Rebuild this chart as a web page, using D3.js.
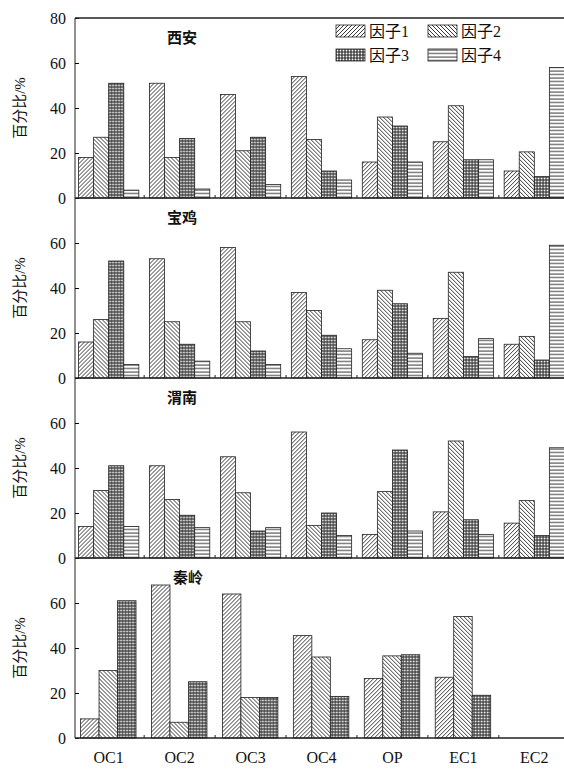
<!DOCTYPE html>
<html><head><meta charset="utf-8">
<script src="https://cdn.jsdelivr.net/npm/d3@7"></script>
<style>body{margin:0;background:#fff}svg{display:block}text{font-family:"Liberation Serif","Noto Sans CJK SC",serif;fill:#111}</style>
</head><body><svg id="c" width="564" height="769"></svg>
<script>
const groups = ['OC1', 'OC2', 'OC3', 'OC4', 'OP', 'EC1', 'EC2'];
const factors = ['因子1', '因子2', '因子3', '因子4'];
const sites = ['西安', '宝鸡', '渭南', '秦岭'];
const xian = [[18, 27, 51, 3.5], [51, 18, 26.5, 4], [46, 21, 27, 6], [54, 26, 12, 8], [16, 36, 32, 16], [25, 41, 17, 17], [12, 20.5, 9.5, 58]];
const baoji = [[16, 26, 52, 6], [53, 25, 15, 7.5], [58, 25, 12, 6], [38, 30, 19, 13], [17, 39, 33, 11], [26.5, 47, 9.5, 17.5], [15, 18.5, 8, 59]];
const weinan = [[14, 30, 41, 14], [41, 26, 19, 13.5], [45, 29, 12, 13.5], [56, 14.5, 20, 10], [10.5, 29.5, 48, 12], [20.5, 52, 17, 10.5], [15.5, 25.5, 10, 49]];
const qinling = [[8.5, 30, 61], [68, 7, 25], [64, 18, 18], [45.5, 36, 18.5], [26.5, 36.5, 37], [27, 54, 19], []];
const panels = [xian, baoji, weinan, qinling];

const svg = d3.select('#c');
const defs = svg.append('defs');
function pat(id, w, h, draw) {
  const p = defs.append('pattern').attr('id', id).attr('patternUnits', 'userSpaceOnUse').attr('width', w).attr('height', h);
  p.append('rect').attr('width', w).attr('height', h).attr('fill', '#fff');
  draw(p);
}
pat('f0', 4, 4, p => p.append('path').attr('d', 'M-1,1 l2,-2 M0,4 l4,-4 M3,5 l2,-2').attr('stroke', '#222').attr('stroke-width', 0.9));
pat('f1', 4, 4, p => p.append('path').attr('d', 'M-1,3 l2,2 M0,0 l4,4 M3,-1 l2,2').attr('stroke', '#222').attr('stroke-width', 0.9));
pat('f2', 3, 3, p => { p.append('rect').attr('width', 3).attr('height', 3).attr('fill', '#444');
  p.append('circle').attr('cx', 1.5).attr('cy', 1.5).attr('r', 0.9).attr('fill', '#fff'); });
pat('f3', 4, 3.5, p => p.append('path').attr('d', 'M0,1 h4').attr('stroke', '#222').attr('stroke-width', 0.9));

const left = 75, right = 568, top0 = 18, ph = 180;
const x = d3.scaleBand().domain(groups).range([left, right]).paddingInner(0.15).paddingOuter(0.05);

panels.forEach((data, i) => {
  const y = d3.scaleLinear().domain([0, 80]).range([top0 + (i + 1) * ph, top0 + i * ph]);
  const nf = i === 3 ? 3 : 4;
  const xs = d3.scaleBand().domain(d3.range(nf)).range([0, i === 3 ? x.bandwidth() * 0.92 : x.bandwidth()]);
  const g = svg.append('g');
  g.selectAll('g').data(data).join('g')
    .attr('transform', (d, j) => `translate(${x(groups[j]) + (i === 3 ? 2 : 0)},0)`)
    .selectAll('rect').data(d => d).join('rect')
    .attr('x', (d, k) => xs(k)).attr('width', xs.bandwidth())
    .attr('y', d => y(d)).attr('height', d => y(0) - y(d))
    .attr('fill', (d, k) => `url(#f${k})`).attr('stroke', '#222').attr('stroke-width', 0.8);
  const ax = d3.axisLeft(y).tickValues(i === 0 ? [0, 20, 40, 60, 80] : [0, 20, 40, 60]).tickSize(-4).tickPadding(9).tickSizeOuter(0);
  const ag = svg.append('g').attr('transform', `translate(${left},0)`).call(ax);
  ag.select('.domain').attr('stroke', '#222').attr('d', `M0,${y(80)}V${y(0)}`);
  ag.selectAll('text').attr('font-size', 16);
  svg.append('line').attr('x1', left).attr('x2', 564).attr('y1', y(0)).attr('y2', y(0)).attr('stroke', '#222').attr('stroke-width', 1.3);
  svg.append('text').attr('transform', `translate(25,${y(40)}) rotate(-90)`).attr('text-anchor', 'middle')
    .attr('font-size', 15).text('百分比/%');
  svg.append('text').attr('x', i === 3 ? 173 : 167).attr('y', y(80) + 25).attr('font-size', 15).attr('font-weight', 'bold').text(sites[i]);
  svg.append('g').selectAll('line').data(groups.slice(1)).join('line')
    .attr('x1', d => x(d) - x.step() * x.paddingInner() / 2).attr('x2', d => x(d) - x.step() * x.paddingInner() / 2)
    .attr('y1', y(0)).attr('y2', y(0) - 3).attr('stroke', '#222');
});
svg.append('line').attr('x1', left).attr('x2', 564).attr('y1', top0).attr('y2', top0).attr('stroke', '#222').attr('stroke-width', 1.3);
svg.append('g').selectAll('text').data(groups).join('text')
  .attr('x', d => x(d) + x.bandwidth() / 2).attr('y', 763).attr('text-anchor', 'middle').attr('font-size', 16).text(d => d);

const lg = svg.append('g').selectAll('g').data(factors).join('g')
  .attr('transform', (d, k) => `translate(${336 + (k % 2) * 92},${25 + Math.floor(k / 2) * 24})`);
lg.append('rect').attr('width', 29).attr('height', 12).attr('fill', (d, k) => `url(#f${k})`).attr('stroke', '#222').attr('stroke-width', 0.8);
lg.append('text').attr('x', 33).attr('y', 12).attr('font-size', 16).text(d => d);
</script></body></html>
